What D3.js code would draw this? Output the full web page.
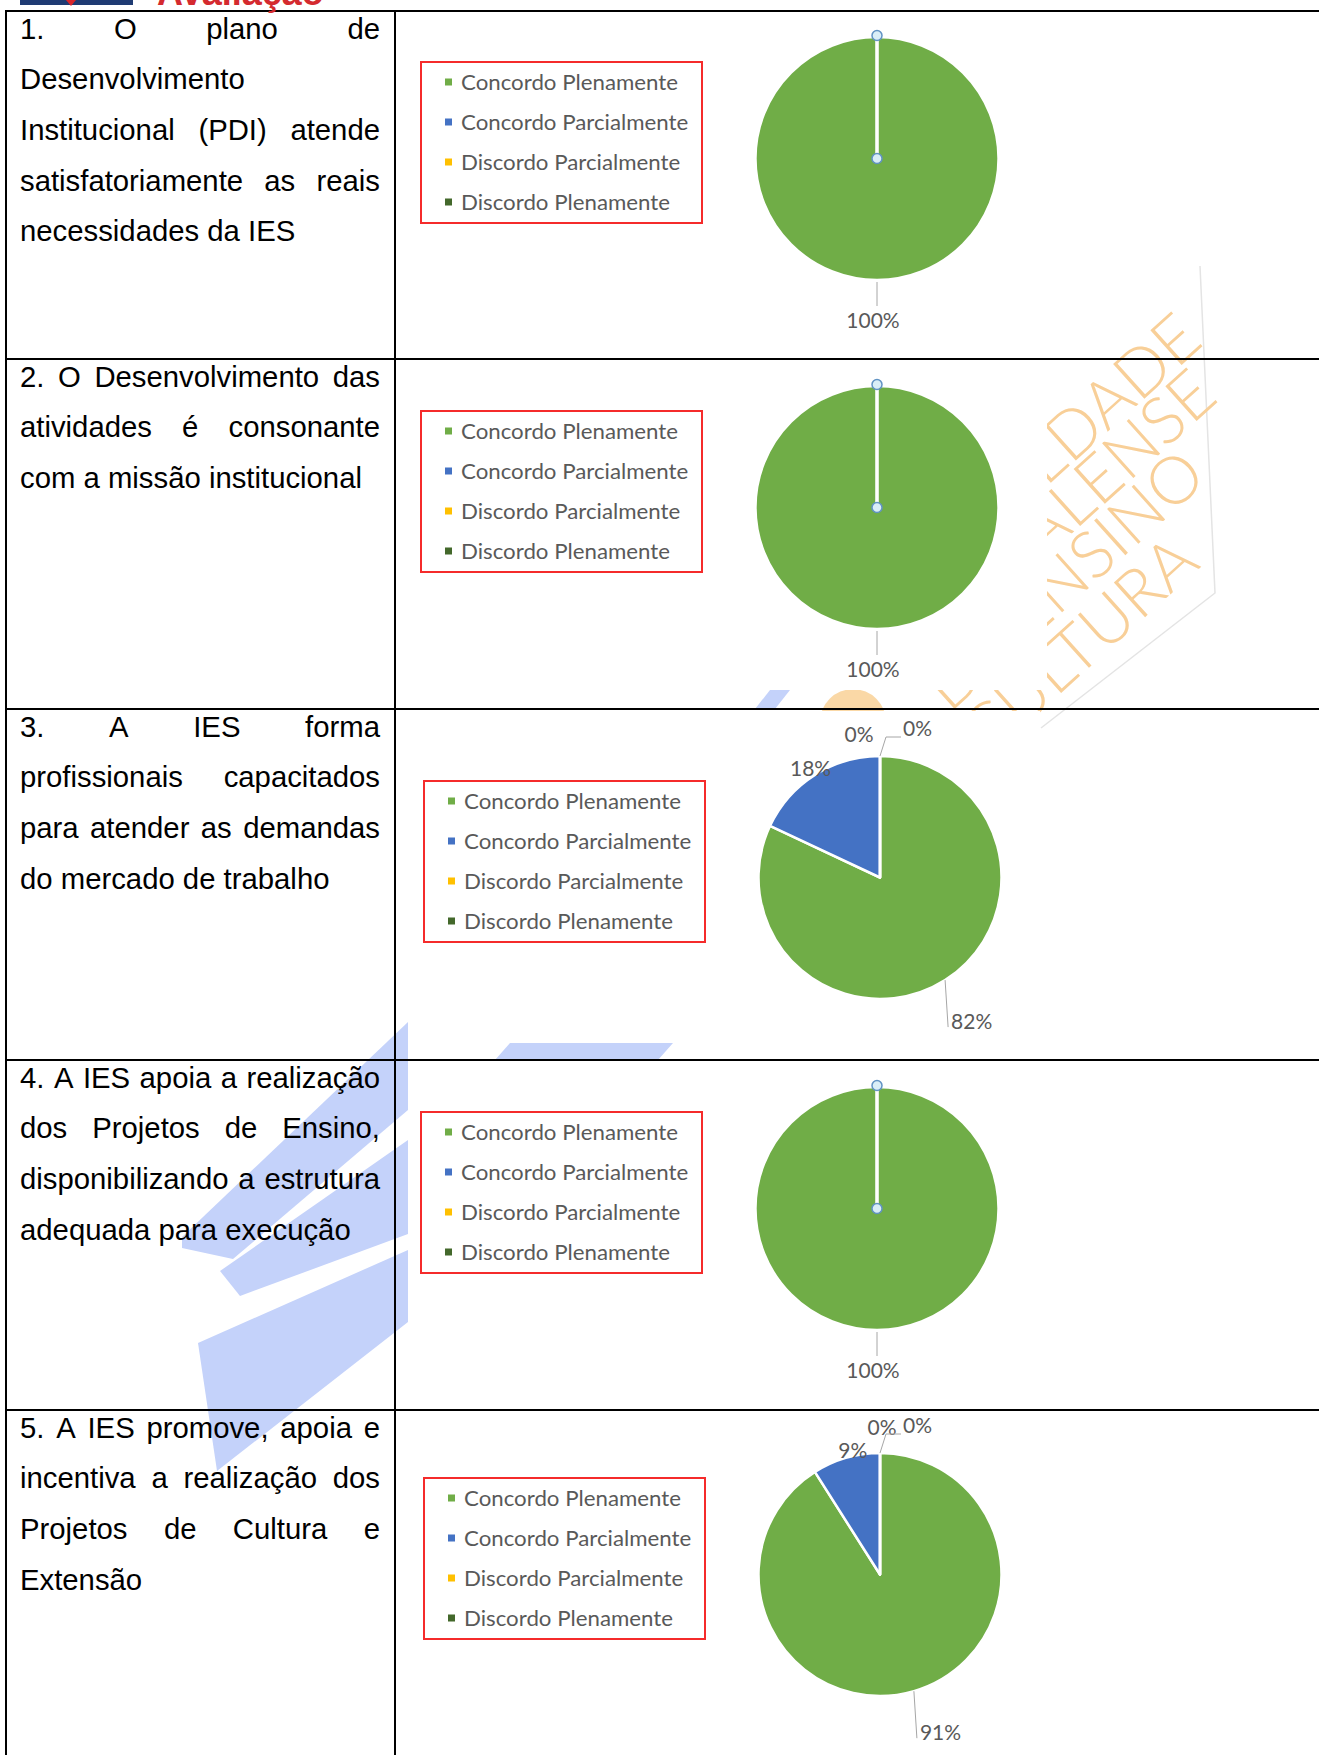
<!DOCTYPE html>
<html lang="pt-BR">
<head>
<meta charset="UTF-8">
<title>Avaliação - questões 1 a 5</title>
<script src="https://d3js.org/d3.v7.min.js"></script>
<style>
  body { margin: 0; background: #fff; }
  svg { display: block; }
  .q { font-family: "Liberation Sans", Arial, sans-serif; font-size: 29.3px; fill: #000; }
  .leg { font-family: Lato, "Open Sans", sans-serif; font-size: 22px; fill: #595959; }
  .lbl { font-family: Lato, "Open Sans", sans-serif; font-size: 21px; fill: #595959; }
  .wmtext { font-family: Lato, "Open Sans", sans-serif; font-weight: 300; font-size: 66px; fill: #f8cf98; }
</style>
</head>
<body>
<svg width="1319" height="1755"></svg>
<script>
// ---- dados ----
const categories = ["Concordo Plenamente", "Concordo Parcialmente", "Discordo Parcialmente", "Discordo Plenamente"];
const colors = ["#70ad47", "#4472c4", "#ffc000", "#43682b"];

const questions = [
    ["1. O plano de", "Desenvolvimento", "Institucional (PDI) atende", "satisfatoriamente as reais", "necessidades da IES"],
    ["2. O Desenvolvimento das", "atividades é consonante", "com a missão institucional"],
    ["3. A IES forma", "profissionais capacitados", "para atender as demandas", "do mercado de trabalho"],
    ["4. A IES apoia a realização", "dos Projetos de Ensino,", "disponibilizando a estrutura", "adequada para execução"],
    ["5. A IES promove, apoia e", "incentiva a realização dos", "Projetos de Cultura e", "Extensão"]
];

const q1 = [100, 0, 0, 0];
const q2 = [100, 0, 0, 0];
const q3 = [82, 18, 0, 0];
const q4 = [100, 0, 0, 0];
const q5 = [91, 9, 0, 0];
const series = [q1, q2, q3, q4, q5];

// ---- layout ----
const W = 1319, H = 1755;
const rowTops = [11, 359, 709, 1060, 1410];
const chartCorner = [[421, 62], [421, 411], [424, 781], [421, 1112], [424, 1478]];
const R = 121.5;
const textLeft = 20, textRight = 380, lineGap = 50.7;

const svg = d3.select("svg");
svg.append("rect").attr("width", W).attr("height", H).attr("fill", "#fff");

// ---- marca d'água (fundo) ----
const wm = svg.append("g");
const bluePieces = [
    [[182, 1237], [408, 1022], [408, 1110], [233, 1259], [182, 1248]],
    [[220, 1271], [408, 1140], [408, 1234], [240, 1296]],
    [[198, 1343], [408, 1250], [408, 1322], [217, 1471]],
    [[495, 1060], [510, 1043], [673, 1043], [658, 1060]],
    [[770, 690], [790, 690], [775, 709], [755, 709]]
];
wm.selectAll("polygon").data(bluePieces).join("polygon")
    .attr("points", d => d.join(" "))
    .attr("fill", "#c4d2fa");
wm.append("circle").attr("cx", 853).attr("cy", 722).attr("r", 33).attr("fill", "#fad8a6");
wm.append("polyline")
    .attr("points", "1200,266 1215,593 1041,728")
    .attr("fill", "none").attr("stroke", "#e4e4e4").attr("stroke-width", 1.5);

const wmLines = [
    { t: "FACULDADE", x: 1205, y: 344 },
    { t: "VALENSE", x: 1220, y: 400 },
    { t: "DE ENSINO", x: 1209, y: 480 },
    { t: "E CULTURA", x: 1202, y: 566 }
];
wm.selectAll("text").data(wmLines).join("text")
    .attr("class", "wmtext")
    .attr("text-anchor", "end")
    .attr("transform", d => `translate(${d.x},${d.y}) rotate(-42)`)
    .text(d => d.t);

// ---- fundos brancos das imagens dos gráficos ----
const imgBoxes = [[397, 13, 1047, 357], [408, 361, 1047, 690], [409, 711, 1040, 1043], [408, 1062, 1047, 1408], [408, 1412, 1047, 1755]];
svg.append("g").selectAll("rect").data(imgBoxes).join("rect")
    .attr("x", d => d[0]).attr("y", d => d[1])
    .attr("width", d => d[2] - d[0]).attr("height", d => d[3] - d[1])
    .attr("fill", "#fff");

// ---- gráficos ----
const pie = d3.pie().sort(null).value(d => d);
const arc = d3.arc().innerRadius(0).outerRadius(R);
const pct = d3.format(".0%");
const legendY = d3.scalePoint().domain(categories).range([20, 140]);

// fator de compressão para imitar a Calibri
const probe = svg.append("text").attr("class", "leg").text(categories[0]);
const legK = 217 / probe.node().getComputedTextLength();
probe.remove();

series.forEach((vals, k) => {
    const [lx, ly] = chartCorner[k];
    const cx = lx + 456, cy = ly + 96.5;
    const total = d3.sum(vals);
    const g = svg.append("g");

    // legenda
    g.append("rect")
        .attr("x", lx).attr("y", ly).attr("width", 281).attr("height", 161)
        .attr("fill", "#fff").attr("stroke", "#f52b2b").attr("stroke-width", 2);
    const items = g.selectAll("g.item").data(categories).join("g")
        .attr("class", "item")
        .attr("transform", d => `translate(${lx},${ly + legendY(d)})`);
    items.append("rect")
        .attr("x", 24).attr("y", -3.5).attr("width", 7).attr("height", 7)
        .attr("fill", (d, i) => colors[i]);
    items.append("text")
        .attr("class", "leg")
        .attr("x", 40).attr("y", 7.5)
        .text(d => d)
        .each(function () {
            const w = this.getComputedTextLength();
            d3.select(this).attr("textLength", w * legK).attr("lengthAdjust", "spacingAndGlyphs");
        });

    // pizza
    const arcs = pie(vals);
    const pg = g.append("g").attr("transform", `translate(${cx},${cy})`);
    pg.selectAll("path").data(arcs).join("path")
        .attr("d", arc)
        .attr("fill", (d, i) => colors[i])
        .attr("stroke", "#fff").attr("stroke-width", 2.5)
        .attr("stroke-linejoin", "round");

    const top = cy - R;
    const nonZero = vals.filter(v => v > 0).length;
    const crowded = vals.some(v => v > 0 && v / total < 0.12);
    const lg = g.append("g");
    let zeroCount = 0;

    arcs.forEach(a => {
        const f = a.data / total;
        const mid = (a.startAngle + a.endAngle) / 2;
        const ex = cx + R * Math.sin(mid), ey = cy - R * Math.cos(mid);

        if (f === 1) {
            // fatia selecionada (linha e alças)
            pg.append("line").attr("x1", 0).attr("y1", 0).attr("x2", 0).attr("y2", -R)
                .attr("stroke", "#fff").attr("stroke-width", 3);
            pg.selectAll("circle.h").data([-R - 1.5, 0]).join("circle")
                .attr("class", "h")
                .attr("cx", 0).attr("cy", d => d).attr("r", 5)
                .attr("fill", "#d9eef7").attr("stroke", "#6193c4").attr("stroke-width", 1.5);
            lg.append("line").attr("x1", cx).attr("y1", cy + R + 2).attr("x2", cx).attr("y2", cy + R + 26)
                .attr("stroke", "#a6a6a6");
            lg.append("text").attr("class", "lbl").attr("text-anchor", "middle")
                .attr("x", cx - 4).attr("y", cy + R + 40 + 7.5).text(pct(f));
        } else if (f > 0.5) {
            lg.append("line").attr("x1", ex).attr("y1", ey).attr("x2", ex + 3).attr("y2", ey + 47)
                .attr("stroke", "#a6a6a6");
            lg.append("text").attr("class", "lbl")
                .attr("x", ex + 6).attr("y", ey + 48.5).text(pct(f));
        } else if (f > 0) {
            const lx2 = ex + 8 * Math.sin(mid) + (f < 0.12 ? 9 : 0);
            const ly2 = ey - 8 * Math.cos(mid);
            lg.append("text").attr("class", "lbl").attr("text-anchor", "middle")
                .attr("x", lx2).attr("y", ly2 + 7.5).text(pct(f));
        } else if (nonZero > 1) {
            if (zeroCount === 0) {
                lg.append("text").attr("class", "lbl").attr("text-anchor", "middle")
                    .attr("x", crowded ? cx + 2 : cx - 21)
                    .attr("y", (crowded ? top - 26 : top - 22) + 7.5).text(pct(f));
            } else {
                lg.append("polyline")
                    .attr("points", [[cx, top], [cx + 6, top - 19], [cx + 21, top - 19]].join(" "))
                    .attr("fill", "none").attr("stroke", "#a6a6a6");
                lg.append("text").attr("class", "lbl")
                    .attr("x", cx + 23).attr("y", top - 28 + 7.5).text(pct(f));
            }
            zeroCount++;
        }
    });
});

// ---- tabela ----
const grid = svg.append("g").attr("stroke", "#000").attr("stroke-width", 2);
grid.selectAll("line.h").data(rowTops).join("line")
    .attr("class", "h")
    .attr("x1", 5).attr("x2", W).attr("y1", d => d).attr("y2", d => d);
grid.selectAll("line.v").data([6, 395]).join("line")
    .attr("class", "v")
    .attr("x1", d => d).attr("x2", d => d).attr("y1", 10).attr("y2", H);

// ---- texto justificado ----
const tg = svg.append("g");
const spaceW = 0.278 * 29.3;
questions.forEach((lines, k) => {
    lines.forEach((line, i) => {
        const y = rowTops[k] + 27.5 + i * lineGap;
        const words = line.split(" ");
        const nodes = words.map(w => tg.append("text").attr("class", "q").attr("y", y).text(w));
        const widths = nodes.map(n => n.node().getComputedTextLength());
        const justify = i < lines.length - 1 && words.length > 1;
        const gap = justify ? (textRight - textLeft - d3.sum(widths)) / (words.length - 1) : spaceW;
        let x = textLeft;
        nodes.forEach((n, j) => { n.attr("x", x); x += widths[j] + gap; });
    });
});

// ---- cabeçalho (cortado na borda, como no original) ----
const hd = svg.append("g");
hd.append("rect").attr("x", 20).attr("y", -10).attr("width", 113).attr("height", 15).attr("fill", "#1f3b73");
hd.append("polygon").attr("points", "66,0 76,0 71,6").attr("fill", "#d9262b");
hd.append("text").attr("x", 157).attr("y", 5)
    .attr("font-family", "Liberation Sans, Arial, sans-serif").attr("font-weight", "bold")
    .attr("font-size", 36).attr("fill", "#d42a2f").text("Avaliação");
</script>
</body>
</html>
